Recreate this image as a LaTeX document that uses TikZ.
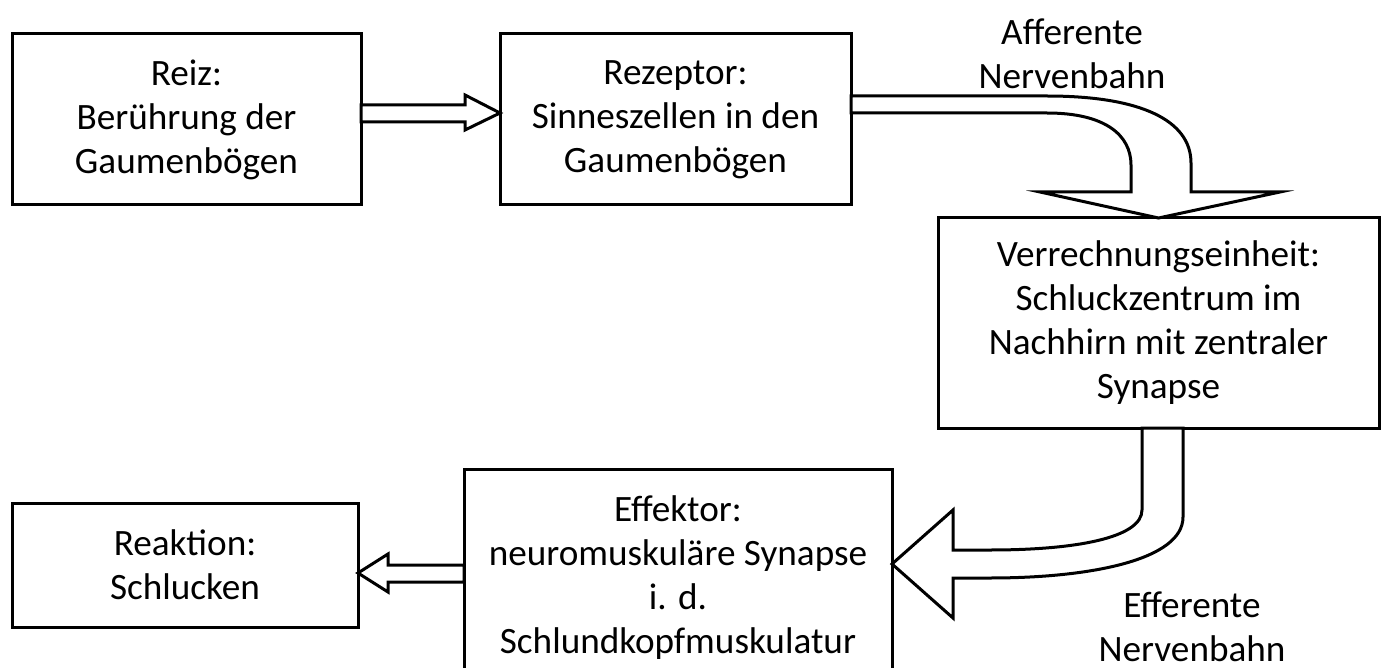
\documentclass[tikz,border=0pt]{standalone}
\usepackage{fontspec}
\setmainfont{Carlito}
\usetikzlibrary{calc}

\begin{document}
\begin{tikzpicture}[x=1pt,y=-1pt,
        box/.style={draw, line width=3pt, outer sep=0pt, inner sep=0pt, align=center,
                    font=\fontsize{37.2}{44}\selectfont},
        blockarrow/.style={draw, line width=3pt, line join=miter, fill=white},
        lbl/.style={align=center, inner sep=0pt, font=\fontsize{37.2}{44}\selectfont}]

        % Rahmen
        \useasboundingbox (0,0) rectangle (1386,668);
        \clip (0,0) rectangle (1386,668);

        % Kaesten
        \node[box, minimum width=349pt, minimum height=171pt] (reiz) at (186.5,119.5)
            {Reiz:\\Berührung der\\Gaumenbögen};
        \node[box, minimum width=351pt, minimum height=171pt] (rezeptor) at (675.5,119.5)
            {Rezeptor:\\Sinneszellen in den\\Gaumenbögen};
        \node[box, minimum width=441pt, minimum height=210pt] (verrechnung) at (1158.5,323)
            {Verrechnungseinheit:\\Schluckzentrum im\\Nachhirn mit zentraler\\Synapse};
        \node[box, minimum width=428pt, minimum height=218pt] (effektor) at (678,578)
            {Effektor:\\neuromuskuläre Synapse\\i. d.\\Schlundkopfmuskulatur};
        \node[box, minimum width=346pt, minimum height=124pt] (reaktion) at (185,565)
            {Reaktion:\\Schlucken};

        % Beschriftungen
        \node[lbl] (afferent) at (1072,54) {Afferente\\Nervenbahn};
        \node[lbl] (efferent) at (1192,627) {Efferente\\Nervenbahn};

        % Pfeil Reiz -> Rezeptor
        \draw[blockarrow] (reiz.east |- 0,105) -- (465,105) -- (465,95)
            -- (rezeptor.west |- 0,113) -- (465,130) -- (465,122)
            -- (reiz.east |- 0,122) -- cycle;

        % Afferente Bahn
        \draw[blockarrow] (rezeptor.east |- 0,96) -- (1047,96)
            .. controls (1140,96) and (1191,120) .. (1191,163) -- (1191,192)
            -- (1280,192) -- (verrechnung.north) -- (1040,192) -- (1131,192) -- (1131,165)
            .. controls (1131,135) and (1105,113) .. (1047,113)
            -- (rezeptor.east |- 0,113) -- cycle;

        % Efferente Bahn
        \draw[blockarrow] (verrechnung.south -| 1183,0) -- (1183,517)
            .. controls (1183,560) and (1090,578) .. (990,578) -- (953,578) -- (953,618)
            -- (effektor.east |- 0,564) -- (953,510) -- (953,550) -- (990,550)
            .. controls (1075,550) and (1142,538) .. (1142,510)
            -- (verrechnung.south -| 1142,0) -- cycle;

        % Pfeil Effektor -> Reaktion
        \draw[blockarrow] (effektor.west |- 0,565) -- (388,565) -- (388,554)
            -- (reaktion.east |- 0,573) -- (388,592) -- (388,582)
            -- (effektor.west |- 0,582) -- cycle;

\end{tikzpicture}
\end{document}
